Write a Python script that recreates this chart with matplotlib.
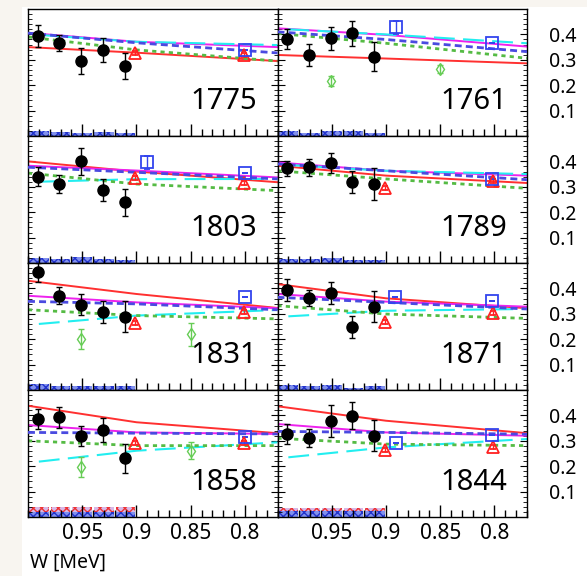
import matplotlib
matplotlib.use('Agg')
import matplotlib.pyplot as plt
from matplotlib.patches import Rectangle
from matplotlib.ticker import MultipleLocator

plt.rcParams['font.family'] = ['Noto Sans', 'DejaVu Sans']

# panel labels, row by row (left, right)
labels = ['1775', '1761', '1803', '1789', '1831', '1871', '1858', '1844']

# black points (data), same W for every panel
w_pts = [0.991, 0.971, 0.951, 0.931, 0.911]
y_pts = {
    '1775': [0.394, 0.366, 0.295, 0.339, 0.276],
    '1761': [0.381, 0.319, 0.385, 0.404, 0.312],
    '1803': [0.340, 0.311, 0.400, 0.289, 0.239],
    '1789': [0.373, 0.377, 0.394, 0.320, 0.311],
    '1831': [0.463, 0.371, 0.336, 0.308, 0.289],
    '1871': [0.395, 0.362, 0.382, 0.249, 0.328],
    '1858': [0.386, 0.392, 0.320, 0.343, 0.231],
    '1844': [0.327, 0.311, 0.377, 0.399, 0.320],
}
e_pts = {
    '1775': [0.043, 0.030, 0.050, 0.047, 0.052],
    '1761': [0.040, 0.043, 0.045, 0.050, 0.057],
    '1803': [0.036, 0.034, 0.052, 0.043, 0.054],
    '1789': [0.030, 0.033, 0.040, 0.044, 0.062],
    '1831': [0.036, 0.033, 0.041, 0.044, 0.062],
    '1871': [0.043, 0.030, 0.043, 0.043, 0.062],
    '1858': [0.040, 0.040, 0.040, 0.046, 0.056],
    '1844': [0.040, 0.036, 0.062, 0.052, 0.060],
}

# red open triangles
w_tri = [0.901, 0.801]
y_tri = {
    '1775': [0.327, 0.319],
    '1803': [0.333, 0.315],
    '1789': [0.294, 0.324],
    '1831': [0.264, 0.306],
    '1871': [0.266, 0.303],
    '1858': [0.290, 0.290],
    '1844': [0.265, 0.274],
}

# blue open squares
w_sq = {
    '1775': [0.800], '1761': [0.891, 0.802], '1803': [0.890, 0.800],
    '1789': [0.802], '1831': [0.800], '1871': [0.892, 0.802],
    '1858': [0.800], '1844': [0.891, 0.802],
}
y_sq = {
    '1775': [0.340], '1761': [0.428, 0.367], '1803': [0.396, 0.353],
    '1789': [0.331], '1831': [0.365], '1871': [0.365, 0.352],
    '1858': [0.316], '1844': [0.290, 0.323],
}
e_sq = {
    '1761': [0.025, 0.0], '1803': [0.025, 0.0],
}

# green open diamonds
w_dia = [0.951, 0.850]
y_dia = {'1761': [0.218, 0.264], '1831': [0.201, 0.220], '1858': [0.196, 0.261]}
e_dia = {'1761': [0.020, 0.015], '1831': [0.038, 0.045], '1858': [0.040, 0.033]}

# model curves
w_curve = [1.0, 0.9, 0.77]
w_cyan = [0.99, 0.9, 0.77]
red_c = {
    '1775': [0.350, 0.328, 0.295], '1761': [0.319, 0.305, 0.286],
    '1803': [0.400, 0.360, 0.318], '1789': [0.383, 0.344, 0.315],
    '1831': [0.430, 0.378, 0.323], '1871': [0.417, 0.361, 0.322],
    '1858': [0.438, 0.373, 0.330], '1844': [0.436, 0.379, 0.330],
}
mag_c = {
    '1775': [0.406, 0.371, 0.350], '1761': [0.424, 0.398, 0.352],
    '1803': [0.383, 0.364, 0.337], '1789': [0.396, 0.363, 0.344],
    '1831': [0.371, 0.345, 0.322], '1871': [0.378, 0.348, 0.328],
    '1858': [0.362, 0.333, 0.327], '1844': [0.366, 0.333, 0.320],
}
cyan_c = {
    '1775': [0.398, 0.371, 0.358], '1761': [0.420, 0.400, 0.365],
    '1803': [0.320, 0.330, 0.331], '1789': [0.386, 0.363, 0.350],
    '1831': [0.260, 0.293, 0.315], '1871': [0.290, 0.312, 0.319],
    '1858': [0.218, 0.261, 0.294], '1844': [0.235, 0.274, 0.307],
}
blue_c = {
    '1775': [0.405, 0.367, 0.327], '1761': [0.410, 0.380, 0.332],
    '1803': [0.377, 0.357, 0.331], '1789': [0.390, 0.363, 0.328],
    '1831': [0.349, 0.339, 0.316], '1871': [0.365, 0.345, 0.319],
    '1858': [0.333, 0.330, 0.327], '1844': [0.337, 0.333, 0.326],
}
green_c = {
    '1775': [0.390, 0.339, 0.295], '1761': [0.404, 0.365, 0.306],
    '1803': [0.354, 0.311, 0.285], '1789': [0.363, 0.331, 0.294],
    '1831': [0.316, 0.293, 0.280], '1871': [0.332, 0.299, 0.282],
    '1858': [0.300, 0.281, 0.281], '1844': [0.310, 0.287, 0.281],
}

# systematic error bands at the bottom
w_sys = [0.99, 0.97, 0.95, 0.93, 0.91]
sys_blue = {
    '1775': [0.020, 0.017, 0.010, 0.017, 0.013],
    '1761': [0.018, 0.012, 0.018, 0.018, 0.010],
    '1803': [0.018, 0.014, 0.022, 0.014, 0.010],
    '1789': [0.016, 0.014, 0.018, 0.012, 0.012],
    '1831': [0.022, 0.016, 0.016, 0.014, 0.014],
    '1871': [0.020, 0.016, 0.020, 0.008, 0.014],
    '1858': [0.020, 0.020, 0.020, 0.020, 0.020],
    '1844': [0.025, 0.025, 0.025, 0.025, 0.025],
}
sys_red = {
    '1858': [0.040, 0.040, 0.040, 0.040, 0.040],
    '1844': [0.035, 0.035, 0.035, 0.035, 0.035],
}

xticks = [0.95, 0.9, 0.85, 0.8]
yticks = [0.1, 0.2, 0.3, 0.4]

fig, axes = plt.subplots(4, 2, figsize=(5.87, 5.76), dpi=100, sharex=True, sharey=True)
fig.patch.set_facecolor('#f8f5f0')
fig.subplots_adjust(left=28/587, right=527/587, top=1-9/576, bottom=1-517/576,
                    wspace=0, hspace=0)
fig.patches.append(Rectangle((22/587, 0), 1, 1-7/576, transform=fig.transFigure,
                             facecolor='white', edgecolor='none', zorder=-10))

for i, lab in enumerate(labels):
    ax = axes[i // 2][i % 2]

    # bottom bands
    if lab in sys_red:
        ax.bar(w_sys, sys_red[lab], width=0.018, color='#d8b8e8', edgecolor='#ee3333',
               hatch='xxxx', linewidth=0, zorder=1)
    ax.bar(w_sys, sys_blue[lab], width=0.018, color='#8090ee', edgecolor='#2233cc',
           hatch='xxxx', linewidth=0, zorder=1)

    ax.plot(w_curve, red_c[lab], color='#ff3030', lw=1.4, zorder=2)
    ax.plot(w_curve, mag_c[lab], color='#ee22ee', lw=1.4, zorder=2)
    ax.plot(w_cyan, cyan_c[lab], color='#22eef0', lw=1.5, dashes=(10, 4), zorder=2)
    ax.plot(w_curve, blue_c[lab], color='#4a4ae0', lw=2.0, dashes=(2.5, 1.5), zorder=3)
    ax.plot(w_curve, green_c[lab], color='#55bb44', lw=2.0, dashes=(1.5, 1.5), zorder=2)

    if lab in y_dia:
        ax.errorbar(w_dia, y_dia[lab], yerr=e_dia[lab], fmt='d', ms=6, mfc='none',
                    mec='#66cc55', ecolor='#66cc55', capsize=2, lw=1, zorder=4)
    if lab in y_tri:
        ax.errorbar(w_tri, y_tri[lab], yerr=0.008, fmt='^', ms=9, mfc='none',
                    mec='#ff2020', ecolor='#ff2020', mew=1.3, capsize=2, lw=1, zorder=4)
    ax.errorbar(w_sq[lab], y_sq[lab], yerr=e_sq.get(lab, 0), fmt='s', ms=9, mfc='none',
                mec='#3344ee', ecolor='#3344ee', mew=1.3, capsize=2, lw=1, zorder=4)
    ax.errorbar(w_pts, y_pts[lab], yerr=e_pts[lab], fmt='o', ms=8, color='black',
                ecolor='black', capsize=2.5, lw=1, zorder=5)

    ax.text(0.92, 0.27, lab, transform=ax.transAxes, ha='right', va='center',
            fontsize=21)

    ax.set_xlim(1.0, 0.77)
    ax.set_ylim(0, 0.5)
    ax.xaxis.set_major_locator(MultipleLocator(0.05))
    ax.xaxis.set_minor_locator(MultipleLocator(0.01))
    ax.yaxis.set_major_locator(MultipleLocator(0.1))
    ax.yaxis.set_minor_locator(MultipleLocator(0.02))
    ax.tick_params(axis='x', which='major', direction='in', length=9, width=1, top=False)
    ax.tick_params(axis='x', which='minor', direction='in', length=5, width=1, top=False)
    ax.tick_params(axis='y', which='major', direction='in', length=5, left=True, right=True)
    ax.tick_params(axis='y', which='minor', direction='in', length=3, left=True, right=True)
    ax.tick_params(labelleft=False, labelright=False, labelbottom=False)
    for s in ax.spines.values():
        s.set_linewidth(1.0)

    if i % 2 == 1:
        ax.tick_params(axis='y', labelright=True, labelsize=14, pad=16)
        ax.set_yticks(yticks)
        ax.set_yticklabels([f'{v:.1f}' for v in yticks])
    if i >= 6:
        ax.set_xticks(xticks)
        ax.set_xticklabels([f'{v:g}' for v in xticks])
        ax.tick_params(axis='x', labelbottom=True, labelsize=15, pad=4)

# y ticks were reset by set_yticks; restore minor locator
for ax in axes.flat:
    ax.yaxis.set_minor_locator(MultipleLocator(0.02))
    ax.set_ylim(0, 0.5)

fig.text(30/587, 1-563/576, 'W [MeV]', ha='left', va='center', fontsize=14)

fig.savefig('out.png', dpi=100, facecolor=fig.get_facecolor())
